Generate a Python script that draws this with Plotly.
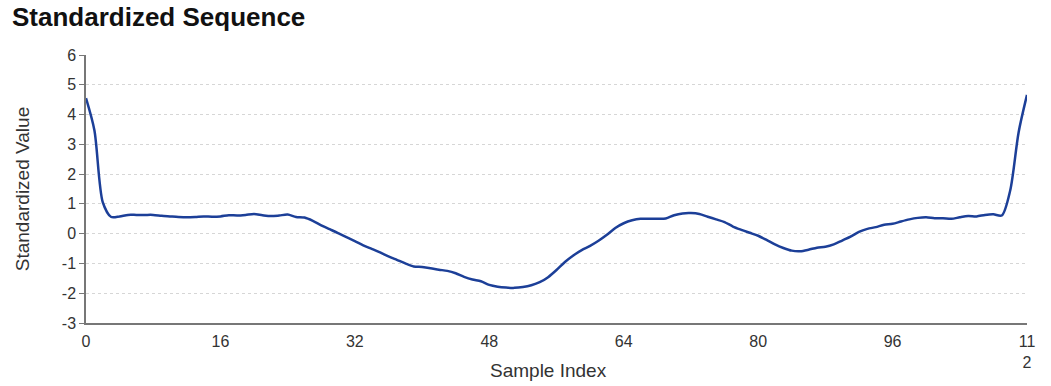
import plotly.graph_objects as go

sample_index = list(range(113))
standardized_value = [
    4.55, 3.47, 1.05, 0.56, 0.58, 0.63, 0.63, 0.63, 0.63, 0.60,
    0.58, 0.56, 0.55, 0.56, 0.58, 0.57, 0.58, 0.62, 0.61, 0.63,
    0.66, 0.62, 0.59, 0.61, 0.64, 0.56, 0.54, 0.43, 0.28, 0.15,
    0.02, -0.12, -0.25, -0.39, -0.51, -0.63, -0.76, -0.88, -1.00, -1.10,
    -1.12, -1.16, -1.21, -1.25, -1.33, -1.45, -1.54, -1.60, -1.72, -1.78,
    -1.81, -1.82, -1.79, -1.73, -1.63, -1.46, -1.22, -0.95, -0.73, -0.55,
    -0.41, -0.24, -0.04, 0.19, 0.35, 0.45, 0.50, 0.50, 0.50, 0.51,
    0.62, 0.68, 0.69, 0.66, 0.57, 0.48, 0.39, 0.24, 0.13, 0.03,
    -0.07, -0.21, -0.36, -0.48, -0.57, -0.59, -0.54, -0.47, -0.44, -0.36,
    -0.23, -0.10, 0.06, 0.16, 0.22, 0.30, 0.33, 0.41, 0.48, 0.53,
    0.55, 0.52, 0.52, 0.50, 0.55, 0.59, 0.58, 0.63, 0.65, 0.61,
    1.45, 3.40, 4.66,
]

x_tick_vals = [0, 16, 32, 48, 64, 80, 96, 112]
x_tick_text = ["0", "16", "32", "48", "64", "80", "96", "11<br>2"]
y_tick_vals = [-3, -2, -1, 0, 1, 2, 3, 4, 5, 6]
y_tick_text = ["-3", "-2", "-1", "0", "1", "2", "3", "4", "5", "6"]

font_family = "Liberation Sans, Arial, sans-serif"

fig = go.Figure()
fig.add_trace(go.Scatter(
    x=sample_index,
    y=standardized_value,
    mode="lines",
    line=dict(color="#1c3f98", width=2.5, shape="spline", smoothing=0.8),
    hoverinfo="x+y",
    showlegend=False,
))

fig.update_layout(
    width=1051,
    height=386,
    margin=dict(l=86, r=24, t=55, b=63),
    paper_bgcolor="white",
    plot_bgcolor="white",
    font=dict(family=font_family, color="#333333", size=15),
    title=dict(
        text="<b>Standardized Sequence</b>",
        x=12 / 1051, xref="container", xanchor="left",
        y=1 - 17 / 386, yref="container", yanchor="middle",
        font=dict(size=26, color="#111111", family=font_family),
        automargin=False,
    ),
    xaxis=dict(
        range=[0, 112],
        tickmode="array",
        tickvals=x_tick_vals,
        ticktext=x_tick_text,
        showgrid=False,
        zeroline=False,
        showline=True,
        linecolor="#777777",
        linewidth=1.5,
        ticks="outside",
        ticklen=3,
        tickcolor="rgba(0,0,0,0)",
        tickfont=dict(size=16, color="#333333"),
        automargin=False,
    ),
    yaxis=dict(
        range=[-3, 6],
        tickmode="array",
        tickvals=y_tick_vals,
        ticktext=y_tick_text,
        showgrid=True,
        gridcolor="#d6d6d6",
        griddash="dot",
        gridwidth=1,
        zeroline=False,
        showline=True,
        linecolor="#777777",
        linewidth=1.5,
        ticks="outside",
        ticklen=5,
        tickcolor="#777777",
        tickfont=dict(size=16, color="#333333"),
        automargin=False,
        title=dict(text="Standardized Value", font=dict(size=19, color="#333333"), standoff=27),
    ),
    annotations=[dict(
        text="Sample Index",
        xref="paper", yref="paper",
        x=(548 - 86) / 941, y=(323 - 370) / 268,
        xanchor="center", yanchor="middle",
        showarrow=False,
        font=dict(size=19, color="#333333", family=font_family),
    )],
)

fig.write_html("out.html")
